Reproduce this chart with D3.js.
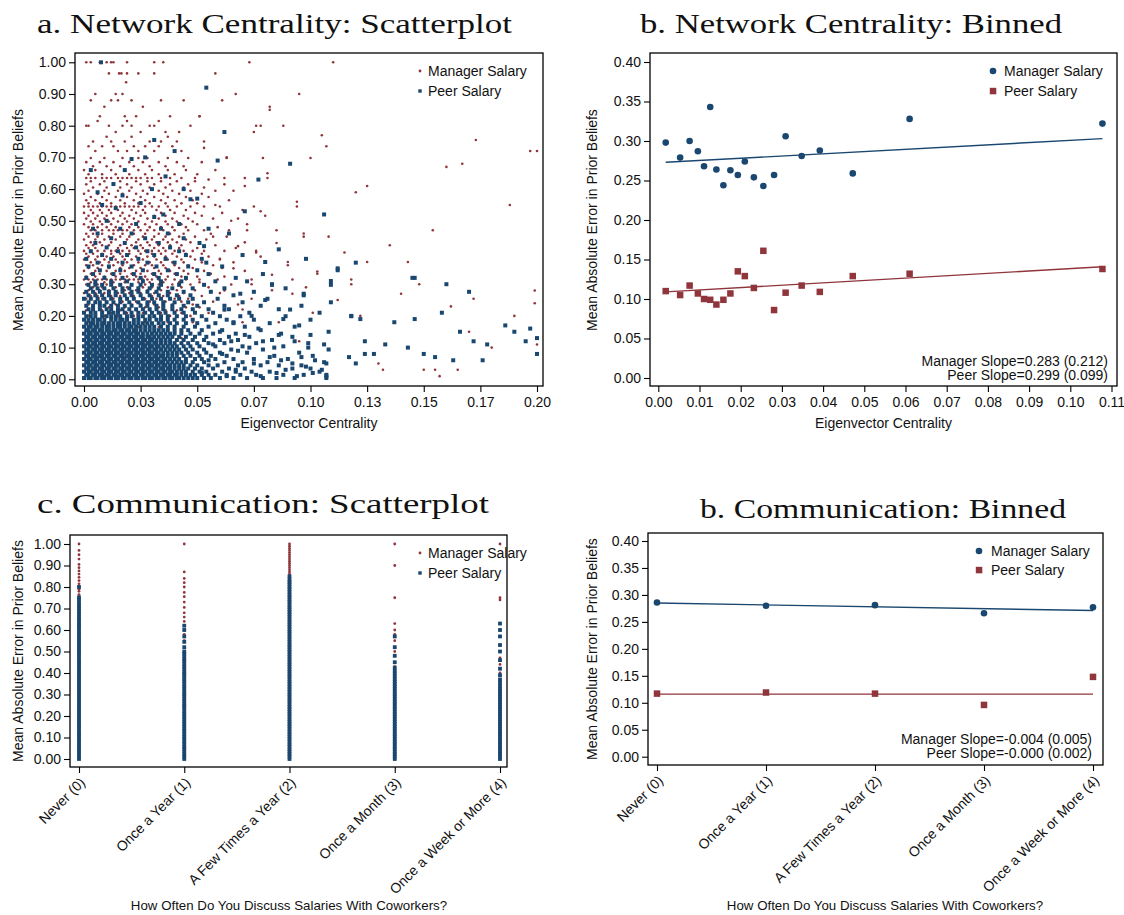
<!DOCTYPE html>
<html><head><meta charset="utf-8">
<script src="https://cdn.jsdelivr.net/npm/d3@7"></script>
<style>body{margin:0;background:#fff}</style>
</head><body><svg id="c" width="1124" height="915" xmlns="http://www.w3.org/2000/svg"></svg>
<script>
// ---------------- DATA ----------------
const titles = ["a. Network Centrality: Scatterplot","b. Network Centrality: Binned","c. Communication: Scatterplot","b. Communication: Binned"];
const seriesNames = ["Manager Salary","Peer Salary"];
const yTitle = "Mean Absolute Error in Prior Beliefs";
const xTitleTop = "Eigenvector Centrality";
const xTitleBottom = "How Often Do You Discuss Salaries With Coworkers?";

const yTicksA = [0,0.1,0.2,0.3,0.4,0.5,0.6,0.7,0.8,0.9,1.0];
const xTicksA = [0,0.025,0.05,0.075,0.1,0.125,0.15,0.175,0.2];
const xTickLabelsA = ["0.00","0.03","0.05","0.07","0.10","0.13","0.15","0.17","0.20"];
const yTicksB = [0,0.05,0.1,0.15,0.2,0.25,0.3,0.35,0.4];
const xTicksB = [0,0.01,0.02,0.03,0.04,0.05,0.06,0.07,0.08,0.09,0.1,0.11];
const freqCodes = [0,1,2,3,4];
const freqLabels = ["Never (0)","Once a Year (1)","A Few Times a Year (2)","Once a Month (3)","Once a Week or More (4)"];

// Panel b: binned centrality
const binX = [.0018,.0053,.0076,.0096,.0111,.0126,.0141,.0158,.0175,.0193,.0210,.0232,.0255,.0281,.0309,.0348,.0392,.0472,.0610,.1078];
const managerBinned = [.298,.279,.300,.287,.268,.343,.264,.244,.263,.257,.274,.254,.243,.257,.306,.281,.288,.259,.328,.322];
const peerBinned = [.110,.105,.117,.107,.100,.099,.093,.099,.107,.135,.129,.114,.161,.086,.108,.117,.109,.129,.132,.138];
const managerFitB = [0.2725, 0.283];   // intercept, slope
const peerFitB = [0.1085, 0.299];
const slopeTextB = ["Manager Slope=0.283 (0.212)","Peer Slope=0.299 (0.099)"];

// Panel d: binned communication
const managerFreq = [.286,.280,.281,.266,.277];
const peerFreq = [.117,.119,.117,.096,.148];
const managerFitD = [0.285, -0.0035];
const peerFitD = [0.116, 0.0];
const slopeTextD = ["Manager Slope=-0.004 (0.005)","Peer Slope=-0.000 (0.002)"];

// Panel c: raw values by discussion frequency (y values per category)
const managerFreqScatter = [
 [.40,.45,.5,.55,.6,.62,.65,.68,.7,.72,.735,.75,.765,.78,.79,.8,.815,.83,.845,.86,.875,.89,.905,.93,.95,.97,1.0],
 [.55,.58,.6,.62,.64,.66,.68,.705,.73,.755,.775,.8,.82,.84,.87,1.0],
 [.7,.75,.8,.82,.84,.85,.86,.87,.88,.89,.9,.91,.92,.93,.94,.95,.96,.97,.98,.99,1.0],
 [.36,.4,.43,.45,.48,.5,.52,.55,.58,.6,.63,.75,.9,1.0],
 [.33,.36,.4,.44,.47,.5,.53,.57,.6,.74,.75,1.0]
];
const peerFreqScatter = [
 [0,.011,.023,.036,.046,.059,.07,.082,.092,.105,.117,.127,.14,.152,.161,.175,.186,.197,.21,.222,.231,.245,.256,.266,.28,.29,.303,.315,.325,.338,.35,.36,.373,.384,.394,.408,.418,.43,.443,.452,.466,.477,.489,.5,.511,.524,.534,.547,.559,.569,.582,.592,.606,.617,.627,.64,.652,.662,.675,.688,.7,.712,.725,.74,.752,.8],
 [0,.012,.022,.035,.047,.057,.07,.081,.094,.104,.116,.129,.139,.151,.163,.174,.187,.198,.209,.221,.234,.245,.255,.268,.279,.292,.302,.314,.327,.337,.349,.362,.372,.385,.396,.406,.419,.43,.442,.455,.465,.477,.49,.5,.52,.545,.57,.6,.62],
 [0,.012,.023,.035,.046,.058,.069,.081,.093,.104,.116,.127,.139,.151,.162,.174,.185,.197,.209,.22,.232,.243,.255,.267,.278,.29,.301,.313,.325,.336,.348,.359,.371,.383,.394,.406,.417,.429,.441,.452,.464,.475,.487,.499,.51,.522,.533,.545,.557,.568,.58,.591,.603,.615,.626,.638,.649,.661,.673,.684,.696,.707,.719,.731,.742,.754,.765,.777,.789,.8,.812,.823,.835,.85],
 [0,.012,.023,.035,.047,.058,.07,.081,.093,.105,.116,.128,.14,.151,.163,.174,.186,.198,.209,.221,.233,.244,.256,.267,.279,.291,.302,.314,.326,.337,.349,.36,.372,.385,.398,.41,.425,.45,.48,.52,.57],
 [0,.012,.023,.035,.047,.058,.07,.081,.093,.105,.116,.128,.14,.151,.163,.174,.186,.198,.209,.221,.233,.244,.256,.267,.279,.291,.302,.314,.326,.34,.355,.37,.39,.42,.46,.5,.53,.57,.6,.63]
];

// Panel a: raw values (eigenvector centrality, error), read row by row
const managerRowsA = [
 [1.0,[.001,.003,.007,.010,.012,.013,.019,.031,.035,.073,.110]],
 [.965,[.011,.0155,.0165,.019,.024,.031,.058]],
 [.937,[.0186]],
 [.90,[.005,.014,.017,.067]],
 [.88,[.003,.012,.015,.021,.034,.044,.061]],
 [.86,[.009,.026,.082]],
 [.83,[.007,.018,.023,.038,.051]],
 [.815,[.006,.019,.033]],
 [.80,[.001,.002,.011,.017,.021,.029,.031,.047,.076,.078]],
 [.78,[.014,.025,.036,.042]],
 [.765,[.010,.021,.037]],
 [.75,[.004,.012,.018,.029,.034,.041,.053]],
 [.735,[.002,.008,.013,.022,.027,.033,.039,.107]],
 [.72,[.005,.015,.019,.024,.031,.043,.2]],
 [.698,[.003,.009,.017,.024,.028,.037,.046,.063,.079,.1]],
 [.685,[.001,.007,.013,.020,.026,.033,.041,.052]],
 [.672,[.004,.010,.016,.022,.029,.036,.044]],
 [.660,[.000,.005,.012,.018,.024,.030,.037,.045,.058]],
 [.647,[.002,.008,.014,.020,.027,.033,.040,.050]],
 [.635,[.001,.003,.005,.008,.010,.012,.015,.017,.019,.021,.023,.025,.028,.030,.034,.038,.043,.049,.062,.071,.081]],
 [.625,[.003,.009,.016,.023,.028,.034,.041,.049]],
 [.615,[.001,.007,.013,.019,.025,.031,.038,.046,.062]],
 [.605,[.004,.010,.016,.021,.029,.036,.044,.053]],
 [.595,[.002,.009,.015,.020,.026,.033,.039,.047,.058,.066]],
 [.585,[.000,.006,.011,.017,.023,.028,.035,.042,.052]],
 [.575,[.003,.008,.014,.019,.025,.031,.037,.045,.055]],
 [.565,[.001,.005,.010,.016,.022,.027,.034,.040,.048,.064]],
 [.555,[.002,.007,.012,.018,.024,.029,.036,.043,.050]],
 [.545,[.000,.002,.004,.006,.008,.010,.012,.014,.016,.018,.020,.022,.024,.027,.030,.033,.037,.041,.047,.053,.060,.075,.094]],
 [.534,[.003,.007,.011,.015,.021,.026,.032,.038,.045,.070]],
 [.525,[.000,.004,.008,.012,.017,.023,.027,.034,.040,.049,.061]],
 [.516,[.002,.006,.010,.016,.020,.025,.031,.036,.044,.052,.08]],
 [.507,[.001,.005,.009,.013,.018,.022,.028,.033,.039,.046,.057,.068]],
 [.498,[.003,.007,.011,.015,.019,.024,.030,.036,.041,.048]],
 [.489,[.000,.004,.008,.012,.017,.021,.027,.032,.037,.043,.050,.072]],
 [.480,[.002,.006,.010,.014,.020,.024,.029,.034,.039,.045,.059]],
 [.470,[.003,.005,.008,.011,.013,.015,.017,.019,.022,.025,.028,.031,.035,.040,.046,.053,.064,.085]],
 [.459,[.001,.004,.008,.013,.017,.022,.027,.033,.038,.044,.056]],
 [.450,[.002,.006,.011,.016,.020,.026,.031,.036,.042,.049,.063,.097]],
 [.441,[.000,.005,.009,.014,.019,.024,.030,.035,.039,.045,.054]],
 [.432,[.003,.007,.012,.018,.023,.028,.032,.037,.041,.047,.071]],
 [.423,[.001,.004,.008,.011,.016,.021,.025,.029,.033,.038,.043,.058,.135]],
 [.414,[.002,.005,.010,.015,.019,.022,.026,.031,.035,.042,.050,.067]],
 [.405,[.000,.003,.006,.009,.012,.014,.017,.020,.024,.027,.030,.033,.036,.040,.044,.048,.053,.062,.076]],
 [.396,[.001,.004,.008,.012,.016,.020,.025,.030,.034,.039,.045,.052]],
 [.387,[.002,.006,.010,.013,.017,.023,.028,.031,.036,.041,.047,.055,.078]],
 [.378,[.000,.005,.009,.014,.018,.021,.026,.032,.037,.043,.049,.060]],
 [.369,[.003,.007,.011,.015,.019,.024,.029,.034,.039,.044,.052,.066]],
 [.360,[.001,.004,.008,.013,.017,.022,.027,.030,.035,.040,.046,.057,.09]],
 [.351,[.002,.006,.011,.016,.020,.025,.031,.036,.042,.048,.061]],
 [.342,[.000,.005,.010,.014,.018,.023,.028,.033,.038,.044,.053,.071]],
 [.333,[.003,.007,.012,.016,.021,.025,.030,.034,.040,.046,.056,.103]],
 [.324,[.001,.005,.009,.014,.019,.023,.027,.032,.037,.043,.050,.062]],
 [.315,[.000,.002,.004,.006,.008,.010,.012,.014,.016,.018,.020,.022,.024,.026,.028,.030,.033,.036,.040,.045,.051,.059,.074,.092,.118]],
 [.306,[.003,.009,.013,.018,.024,.029,.035,.042,.051]],
 [.299,[.001,.006,.010,.016,.021,.027,.033,.039,.047,.065]],
 [.290,[.004,.008,.014,.019,.026,.030,.037,.043,.055]],
 [.281,[.002,.007,.011,.018,.023,.028,.034,.041,.049,.083]],
 [.272,[.000,.005,.009,.015,.020,.025,.031,.038,.044,.060]],
 [.263,[.003,.006,.012,.016,.022,.030,.035,.042,.052]],
 [.254,[.001,.008,.013,.019,.027,.032,.040,.046,.074,.172]],
 [.245,[.005,.010,.017,.023,.029,.036,.043,.057]],
 [.236,[.002,.007,.014,.021,.025,.031,.039,.048,.068]],
 [.227,[.004,.011,.018,.027,.033,.045,.051]],
 [.218,[.001,.008,.016,.023,.029,.036,.041,.062]],
 [.209,[.005,.012,.019,.026,.034,.043,.055]],
 [.200,[.002,.009,.015,.022,.031,.038,.047]],
 [.18,[.002,.009,.018,.027,.037,.048,.07]],
 [.165,[.006,.015,.024,.033,.044]],
 [.15,[.003,.012,.022,.031,.040]],
 [.13,[.008,.019,.030,.043]],
 [.11,[.004,.016,.027]],
 [.09,[.010,.023,.036]],
 [.07,[.006,.018,.031]],
 [.05,[.012,.026]],
 [.03,[.004,.020,.132,.15,.155,.165]],
 [.01,[.009,.015,.157]]
];
const managerScatterA = [[.051,.83],[.053,.73],[.055,.63],[.057,.45],[.058,.55],[.060,.38],[.062,.28],[.063,.70],[.065,.50],[.066,.35],[.068,.42],[.070,.22],[.071,.61],[.072,.47],[.074,.30],[.075,.78],[.076,.40],[.078,.53],[.080,.25],[.081,.65],[.083,.33],[.085,.43],[.086,.18],[.088,.80],[.090,.37],[.092,.27],[.094,.56],[.095,.12],[.097,.46],[.098,.29],[.101,.21],[.103,.34],[.105,.77],[.108,.45],[.112,.25],[.115,.40],[.118,.30],[.120,.59],[.122,.20],[.125,.61],[.125,.37],[.130,.05],[.140,.27],[.143,.37],[.148,.30],[.154,.47],[.160,.67],[.162,.23],[.167,.68],[.170,.15],[.173,.755],[.180,.10],[.188,.55],[.190,.20],[.197,.72],[.199,.28],[.199,.24],[.200,.11],[.095,.90],[.082,.85]];

const peerRowsA = [
 [.004,[.000,.002,.003,.005,.006,.008,.009,.011,.012,.014,.015,.017,.018,.020,.021,.023,.024,.026,.027,.029,.030,.032,.033,.035,.036,.038,.039,.041,.042,.044,.046,.048,.050,.053,.056,.060,.066,.072,.079,.085,.093,.107]],
 [.014,[.001,.002,.004,.005,.007,.008,.010,.011,.013,.014,.016,.017,.019,.020,.022,.023,.025,.026,.028,.029,.031,.032,.034,.035,.037,.038,.040,.041,.043,.045,.047,.049,.052,.055,.058,.063,.069,.076,.088,.097,.107]],
 [.024,[.000,.002,.003,.005,.006,.008,.009,.011,.012,.014,.015,.017,.018,.020,.021,.023,.024,.026,.027,.029,.030,.032,.033,.035,.036,.038,.039,.041,.043,.045,.048,.051,.054,.061,.067,.074,.082,.104]],
 [.034,[.001,.002,.004,.005,.007,.008,.010,.011,.013,.014,.016,.017,.019,.020,.022,.023,.025,.026,.028,.029,.031,.032,.034,.035,.037,.038,.040,.042,.044,.046,.049,.052,.057,.064,.071,.092,.1]],
 [.044,[.000,.002,.003,.005,.006,.008,.009,.011,.012,.014,.015,.017,.018,.020,.021,.023,.024,.026,.027,.029,.030,.032,.033,.035,.036,.038,.040,.042,.044,.047,.050,.055,.059,.068,.078,.086,.096]],
 [.054,[.001,.002,.004,.005,.007,.008,.010,.011,.013,.014,.016,.017,.019,.020,.022,.023,.025,.026,.028,.029,.031,.032,.034,.035,.037,.039,.041,.043,.045,.048,.053,.062,.070,.081,.106]],
 [.064,[.000,.002,.003,.005,.006,.008,.009,.011,.012,.014,.015,.017,.018,.020,.021,.023,.024,.026,.027,.029,.030,.032,.033,.035,.036,.038,.040,.042,.045,.049,.052,.058,.066,.075,.090]],
 [.074,[.001,.002,.004,.005,.007,.008,.010,.011,.013,.014,.016,.017,.019,.020,.022,.023,.025,.026,.028,.029,.031,.032,.034,.035,.037,.039,.041,.044,.047,.051,.056,.063,.084,.101]],
 [.084,[.000,.002,.003,.005,.006,.008,.009,.011,.012,.014,.015,.017,.018,.020,.021,.023,.024,.026,.027,.029,.030,.032,.033,.035,.037,.039,.041,.043,.046,.050,.054,.060,.072,.095]],
 [.094,[.001,.002,.004,.005,.007,.008,.010,.011,.013,.014,.016,.017,.019,.020,.022,.023,.025,.026,.028,.029,.031,.032,.034,.036,.038,.040,.042,.045,.048,.053,.065,.079,.108]],
 [.104,[.000,.002,.003,.005,.006,.008,.009,.011,.012,.014,.015,.017,.018,.020,.021,.023,.024,.026,.027,.029,.030,.032,.033,.035,.037,.039,.041,.044,.047,.051,.058,.070,.088]],
 [.114,[.001,.002,.004,.005,.007,.008,.010,.011,.013,.014,.016,.017,.019,.020,.022,.023,.025,.026,.028,.029,.031,.032,.034,.036,.038,.040,.043,.046,.050,.055,.062,.076,.099]],
 [.124,[.000,.002,.003,.005,.006,.008,.009,.011,.012,.014,.015,.017,.018,.020,.021,.023,.024,.026,.027,.029,.030,.032,.034,.036,.038,.041,.044,.048,.053,.060,.068,.083]],
 [.134,[.001,.002,.004,.005,.007,.008,.010,.011,.013,.014,.016,.017,.019,.020,.022,.023,.025,.026,.028,.029,.031,.033,.035,.037,.039,.042,.045,.049,.054,.064,.073,.092]],
 [.144,[.000,.002,.003,.005,.006,.008,.009,.011,.012,.014,.015,.017,.018,.020,.021,.023,.024,.026,.028,.030,.032,.034,.036,.038,.040,.043,.047,.051,.057,.067,.087]],
 [.155,[.001,.002,.004,.005,.007,.008,.010,.011,.013,.014,.016,.017,.019,.020,.022,.023,.025,.027,.029,.031,.033,.035,.037,.040,.043,.046,.052,.061,.078]],
 [.166,[.000,.002,.003,.005,.006,.008,.010,.011,.013,.015,.016,.018,.020,.021,.023,.025,.027,.029,.031,.034,.037,.040,.044,.049,.055,.071,.093]],
 [.177,[.001,.003,.004,.006,.008,.009,.011,.013,.015,.016,.018,.020,.022,.024,.026,.028,.030,.033,.035,.038,.041,.045,.050,.058,.066,.082]],
 [.188,[.000,.002,.004,.006,.007,.009,.012,.014,.016,.017,.019,.022,.024,.027,.029,.032,.034,.037,.040,.044,.048,.054,.063,.075,.1]],
 [.199,[.001,.003,.005,.008,.010,.012,.014,.016,.019,.021,.024,.026,.029,.031,.034,.037,.041,.045,.052,.060,.069,.089,.118]],
 [.21,[.000,.003,.005,.008,.011,.013,.015,.018,.021,.024,.027,.030,.033,.036,.040,.044,.049,.057,.073]],
 [.221,[.002,.004,.007,.010,.012,.015,.017,.020,.023,.026,.029,.032,.035,.039,.043,.048,.055,.064,.086]],
 [.232,[.001,.004,.007,.009,.012,.015,.018,.021,.025,.028,.032,.035,.039,.044,.050,.062,.078,.096]],
 [.243,[.002,.005,.007,.010,.013,.016,.020,.024,.028,.031,.035,.040,.046,.053,.070,.109]],
 [.254,[.000,.003,.006,.009,.012,.016,.019,.022,.026,.030,.034,.038,.042,.048,.059,.081]],
 [.265,[.002,.005,.008,.011,.014,.018,.021,.025,.029,.033,.037,.041,.047,.066,.097]],
 [.276,[.001,.004,.007,.011,.014,.017,.021,.024,.028,.032,.037,.044,.056,.075,.17]],
 [.287,[.003,.006,.009,.013,.017,.020,.024,.029,.033,.039,.048,.062,.089]],
 [.298,[.002,.005,.008,.012,.016,.021,.025,.030,.034,.042,.053,.083,.109]],
 [.309,[.005,.012,.019,.026,.034,.043,.058,.072]],
 [.32,[.001,.009,.017,.025,.033,.045,.067,.146]],
 [.332,[.004,.013,.022,.031,.041,.055,.079]],
 [.344,[.007,.016,.026,.037,.050,.112]],
 [.356,[.002,.011,.021,.032,.046,.061]],
 [.368,[.006,.017,.028,.040,.054,.12]],
 [.38,[.001,.012,.024,.036,.052]],
 [.392,[.008,.019,.031,.045,.07]],
 [.404,[.003,.015,.028,.042]],
 [.416,[.010,.023,.038]],
 [.43,[.005,.018,.033,.051]],
 [.445,[.012,.027,.044]],
 [.46,[.006,.021,.037]],
 [.475,[.004,.016,.034,.055]]
];
const peerScatterA = [[.003,.66],[.013,.616],[.021,.695],[.018,.66],[.025,.556],[.031,.512],[.030,.60],[.031,.755],[.047,.568],[.050,.57],[.014,.54],[.008,.55],[.023,.49],[.010,.50],[.0075,1.0],[.054,.92],[.059,.69],[.077,.63],[.091,.68],[.106,.52],[.080,.37],[.036,.64],[.040,.72],[.044,.60],[.017,.58],[.027,.70],[.006,.59],[.035,.52],[.042,.49],[.053,.42],[.064,.46],[.071,.53],[.086,.41],[.098,.38],[.062,.78],
 [.052,.02],[.055,.06],[.057,.11],[.060,.15],[.061,.08],[.062,.22],[.063,.01],[.065,.12],[.066,.18],[.067,.03],[.068,.09],[.069,.27],[.071,.14],[.073,.10],[.074,.20],[.075,.05],[.077,.16],[.078,.01],[.079,.12],[.080,.25],[.082,.07],[.083,.30],[.084,.10],[.085,.02],[.086,.14],[.087,.06],[.088,.19],[.089,.03],[.091,.22],[.092,.05],[.093,.12],[.094,.01],[.095,.17],[.096,.07],[.097,.27],[.098,.04],[.099,.10],[.100,.14],[.101,.02],[.102,.06],[.104,.21],[.105,.03],[.106,.11],[.107,.05],[.107,.01],[.108,.15],[.109,.31],[.112,.35],[.117,.07],[.118,.20],[.120,.05],[.122,.19],[.124,.12],[.124,.08],[.128,.08],[.133,.11],[.137,.18],[.143,.10],[.145,.32],[.146,.19],[.150,.08],[.155,.07],[.158,.21],[.160,.30],[.163,.06],[.166,.15],[.172,.12],[.176,.06],[.178,.11],[.186,.17],[.190,.15],[.195,.12],[.197,.16],[.200,.08],[.200,.13]];

// ---------------- DRAWING ----------------
const NAVY = "#1a476f", MAROON = "#90353b", INK = "#111";
const SANS = "'Liberation Sans', Arial, Helvetica, sans-serif";
const svg = d3.select("#c");
svg.append("rect").attr("width",1124).attr("height",915).attr("fill","#fff");

const managerA = managerRowsA.flatMap(([y,xs]) => xs.map(x => [x,y])).concat(managerScatterA);
const peerA = peerRowsA.flatMap(([y,xs]) => xs.map(x => [x,y])).concat(peerScatterA);

function frame(x0,y0,x1,y1){
  svg.append("rect").attr("x",x0).attr("y",y0).attr("width",x1-x0).attr("height",y1-y0)
    .attr("fill","none").attr("stroke","#000").attr("stroke-width",1.3);
}
function styleAxis(g){
  g.select(".domain").remove();
  g.attr("font-family",SANS).attr("font-size",14);
  g.selectAll(".tick line").attr("stroke","#000").attr("stroke-width",1.1);
  g.selectAll(".tick text").attr("fill",INK);
}
function yAxis(scale, xPos, ticks){
  const g = svg.append("g").attr("transform",`translate(${xPos},0)`)
    .call(d3.axisLeft(scale).tickValues(ticks).tickFormat(d3.format(".2f")).tickSize(6).tickPadding(3));
  styleAxis(g);
}
function xAxis(scale, yPos, ticks, fmt){
  const g = svg.append("g").attr("transform",`translate(0,${yPos})`)
    .call(d3.axisBottom(scale).tickValues(ticks).tickFormat(fmt).tickSize(6).tickPadding(5));
  styleAxis(g);
}
function xAxisRot(scale, yPos, ticks, labels){
  const g = svg.append("g").attr("transform",`translate(0,${yPos})`)
    .call(d3.axisBottom(scale).tickValues(ticks).tickFormat((d,i)=>labels[i]).tickSize(6));
  styleAxis(g);
  g.selectAll(".tick text").attr("x",0).attr("y",0).attr("dy","0.35em")
    .attr("text-anchor","end").attr("transform","translate(3,13) rotate(-45)");
}
function title(txt, x, y, len){
  svg.append("text").attr("x",x).attr("y",y).text(txt)
    .attr("font-family","'Liberation Serif','DejaVu Serif',serif").attr("font-size",27)
    .attr("fill","#111").attr("textLength",len).attr("lengthAdjust","spacingAndGlyphs");
}
function text(txt,x,y,opts={}){
  const t = svg.append("text").attr("x",x).attr("y",y).text(txt)
    .attr("font-family",SANS).attr("font-size",opts.size||14).attr("fill",INK)
    .attr("text-anchor",opts.anchor||"start");
  if(opts.rotate) t.attr("transform",`rotate(-90,${x},${y})`);
  return t;
}
function dots(data, xs, ys, r, color){
  svg.append("g").selectAll("circle").data(data).join("circle")
    .attr("cx",d=>xs(d[0])).attr("cy",d=>ys(d[1])).attr("r",r).attr("fill",color);
}
function squares(data, xs, ys, s, color){
  svg.append("g").selectAll("rect").data(data).join("rect")
    .attr("x",d=>xs(d[0])-s/2).attr("y",d=>ys(d[1])-s/2).attr("width",s).attr("height",s).attr("fill",color);
}
function fitLine(fit, xs, ys, x0, x1, color){
  svg.append("line").attr("x1",xs(x0)).attr("x2",xs(x1))
    .attr("y1",ys(fit[0]+fit[1]*x0)).attr("y2",ys(fit[0]+fit[1]*x1))
    .attr("stroke",color).attr("stroke-width",1.4);
}

// ---- Panel a ----
{
  const xs = d3.scaleLinear([0,0.2],[84,537]);
  const ys = d3.scaleLinear([0,1],[379.3,62.3]);
  dots(managerA, xs, ys, 1.3, MAROON);
  squares(peerA, xs, ys, 4.0, NAVY);
  frame(75,53,543,386);
  yAxis(ys, 75, yTicksA);
  xAxis(xs, 386, xTicksA, (d,i)=>xTickLabelsA[i]);
  title(titles[0], 37, 33, 475);
  text(yTitle, 23, 220, {anchor:"middle", rotate:true, size:14});
  text(xTitleTop, 309, 428, {anchor:"middle"});
  svg.append("circle").attr("cx",420).attr("cy",71).attr("r",1.4).attr("fill",MAROON);
  text(seriesNames[0], 428, 76);
  svg.append("rect").attr("x",418.3).attr("y",89.3).attr("width",3.4).attr("height",3.4).attr("fill",NAVY);
  text(seriesNames[1], 428, 96);
}

// ---- Panel b ----
{
  const xs = d3.scaleLinear([0,0.11],[658.3,1111.5]);
  const ys = d3.scaleLinear([0,0.4],[378,62]);
  const x0 = d3.min(binX), x1 = d3.max(binX);
  fitLine(managerFitB, xs, ys, x0, x1, NAVY);
  fitLine(peerFitB, xs, ys, x0, x1, MAROON);
  dots(binX.map((x,i)=>[x,managerBinned[i]]), xs, ys, 3.3, NAVY);
  squares(binX.map((x,i)=>[x,peerBinned[i]]), xs, ys, 6.5, MAROON);
  frame(650,53,1117,386);
  yAxis(ys, 650, yTicksB);
  xAxis(xs, 386, xTicksB, d3.format(".2f"));
  title(titles[1], 640, 33, 422);
  text(yTitle, 597, 220, {anchor:"middle", rotate:true, size:14});
  text(xTitleTop, 883.5, 428, {anchor:"middle"});
  svg.append("circle").attr("cx",993).attr("cy",71).attr("r",3.3).attr("fill",NAVY);
  text(seriesNames[0], 1004, 76);
  svg.append("rect").attr("x",989.8).attr("y",87.8).attr("width",6.5).attr("height",6.5).attr("fill",MAROON);
  text(seriesNames[1], 1004, 96);
  text(slopeTextB[0], 1108, 366, {anchor:"end"});
  text(slopeTextB[1], 1108, 380, {anchor:"end"});
}

// ---- Panel c ----
{
  const xs = d3.scaleLinear([0,4],[79,500]);
  const ys = d3.scaleLinear([0,1],[759,544]);
  const man = managerFreqScatter.flatMap((vals,i)=>vals.map(v=>[freqCodes[i],v]));
  const peer = peerFreqScatter.flatMap((vals,i)=>vals.map(v=>[freqCodes[i],v]));
  dots(man, xs, ys, 1.4, MAROON);
  squares(peer, xs, ys, 3.8, NAVY);
  frame(70,535,507,767);
  yAxis(ys, 70, yTicksA);
  xAxisRot(xs, 767, freqCodes, freqLabels);
  title(titles[2], 37, 513, 452);
  text(yTitle, 23, 651, {anchor:"middle", rotate:true, size:14});
  text(xTitleBottom, 289, 910, {anchor:"middle", size:13.3});
  svg.append("circle").attr("cx",420).attr("cy",553).attr("r",1.4).attr("fill",MAROON);
  text(seriesNames[0], 428, 558);
  svg.append("rect").attr("x",418.3).attr("y",571.3).attr("width",3.4).attr("height",3.4).attr("fill",NAVY);
  text(seriesNames[1], 428, 578);
}

// ---- Panel d ----
{
  const xs = d3.scaleLinear([0,4],[657,1093]);
  const ys = d3.scaleLinear([0,0.4],[756.7,541]);
  fitLine(managerFitD, xs, ys, 0, 4, NAVY);
  fitLine(peerFitD, xs, ys, 0, 4, MAROON);
  dots(freqCodes.map((x,i)=>[x,managerFreq[i]]), xs, ys, 3.3, NAVY);
  squares(freqCodes.map((x,i)=>[x,peerFreq[i]]), xs, ys, 6.5, MAROON);
  frame(648,533,1103,765);
  yAxis(ys, 648, yTicksB);
  xAxisRot(xs, 765, freqCodes, freqLabels);
  title(titles[3], 700, 518, 366);
  text(yTitle, 597, 649, {anchor:"middle", rotate:true, size:14});
  text(xTitleBottom, 885, 910, {anchor:"middle", size:13.3});
  svg.append("circle").attr("cx",979).attr("cy",551).attr("r",3.3).attr("fill",NAVY);
  text(seriesNames[0], 991, 556);
  svg.append("rect").attr("x",975.8).attr("y",566.8).attr("width",6.5).attr("height",6.5).attr("fill",MAROON);
  text(seriesNames[1], 991, 575);
  text(slopeTextD[0], 1092, 744, {anchor:"end"});
  text(slopeTextD[1], 1092, 758, {anchor:"end"});
}
</script></body></html>
